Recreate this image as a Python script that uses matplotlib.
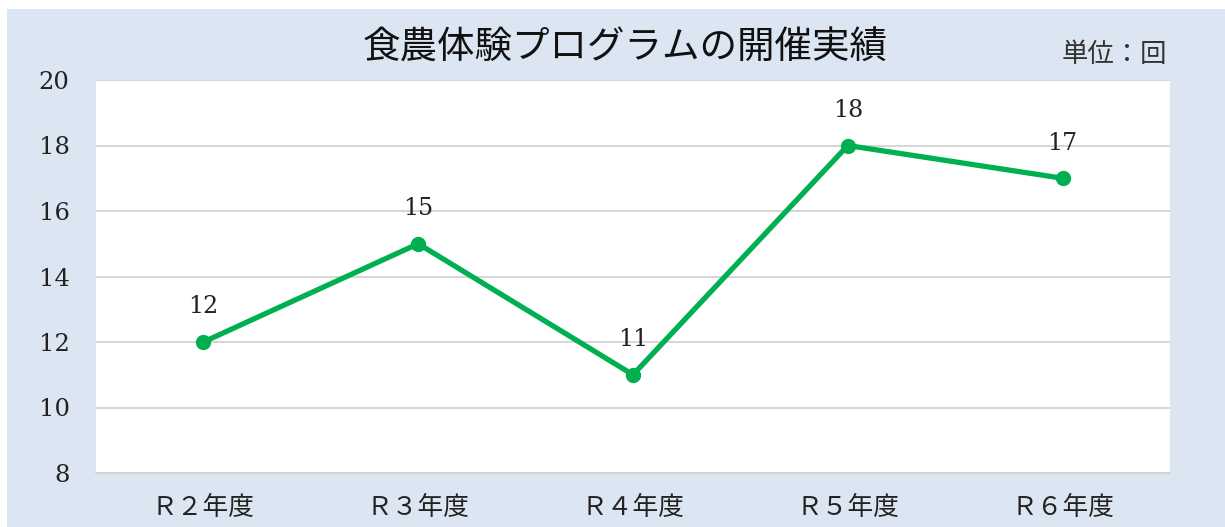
import matplotlib.pyplot as plt
from matplotlib.patches import Rectangle

categories = ['Ｒ２年度', 'Ｒ３年度', 'Ｒ４年度', 'Ｒ５年度', 'Ｒ６年度']
counts = [12, 15, 11, 18, 17]
yticks = [8, 10, 12, 14, 16, 18, 20]

bg = '#dce6f2'
green = '#00b050'
cjk = ['Noto Sans CJK JP', 'DejaVu Sans']
num = ['DejaVu Serif']

fig = plt.figure(figsize=(12.25, 5.27), dpi=100)
fig.patches.append(Rectangle((7/1225, 0), 1 - 7/1225, 1 - 9/527, transform=fig.transFigure,
                             facecolor=bg, edgecolor='none', zorder=-10))
ax = fig.add_axes([96/1225, 1 - 473/527, 1074/1225, 393/527])
ax.set_facecolor('white')

x = range(len(categories))
ax.plot(x, counts, color=green, linewidth=3.8, marker='o', markersize=10, zorder=3)
for i, v in enumerate(counts):
    ax.annotate(str(v), (i, v), xytext=(0, 17), textcoords='offset points',
                ha='center', va='bottom', fontsize=17, family=num, color='#222222')

ax.set_xlim(-0.5, len(categories) - 0.5)
ax.set_ylim(8, 20)
ax.set_yticks(yticks)
ax.set_yticklabels([str(t) for t in yticks], family=num, fontsize=17.5, color='#222222')
ax.set_xticks(list(x))
ax.set_xticklabels(categories, family=cjk, fontsize=18.5, color='#222222')
ax.grid(axis='y', color='#d0d0d0', linewidth=1.2)
ax.set_axisbelow(True)
for s in ['left', 'right', 'top']:
    ax.spines[s].set_visible(False)
ax.spines['bottom'].set_color('#d0d0d0')
ax.spines['bottom'].set_linewidth(1.2)
ax.tick_params(axis='x', length=0, pad=16)
ax.tick_params(axis='y', length=0, pad=19)

fig.text(625/1225, 1 - 48/527, '食農体験プログラムの開催実績', ha='center', va='center',
         fontsize=27, family=cjk, color='#111111')
fig.text(1167/1225, 1 - 55/527, '単位：回', ha='right', va='center',
         fontsize=19, family=cjk, color='#333333')

fig.savefig('out.png', dpi=100)
